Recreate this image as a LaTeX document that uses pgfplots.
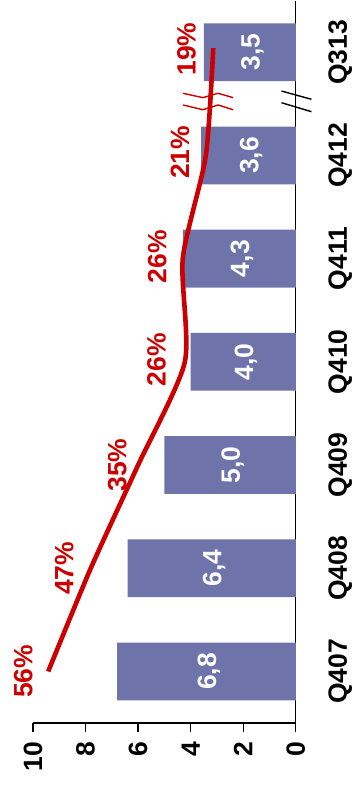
\documentclass[border=0pt]{standalone}
\usepackage{pgfplots}
\pgfplotsset{compat=1.18}
\usepackage{fontspec}
\setmainfont{Liberation Sans}
\definecolor{barblue}{RGB}{110,116,170}
\definecolor{linered}{RGB}{204,0,0}
\newcommand\bigbf{\bfseries\fontsize{26.5}{31}\selectfont}
\begin{document}
\begin{tikzpicture}
\begin{axis}[
  scale only axis, width=263pt, height=723pt,
  xmin=0, xmax=10, ymin=-0.5, ymax=6.5,
  x dir=reverse,
  clip=false,
  axis x line*=bottom, axis y line*=right,
  axis line style={line width=1.3pt, black},
  xtick={0,2,...,10},
  ytick={0,...,6},
  yticklabels={Q407,Q408,Q409,Q410,Q411,Q412,Q313},
  tick align=outside,
  major tick length=9pt,
  x tick style={line width=1.3pt, black},
  y tick style={draw=none},
  /pgf/number format/assume math mode=true,
  xticklabel shift=6pt,
  xticklabel style={rotate=90, anchor=east, font=\bigbf},
  yticklabel style={shift={(20pt,0pt)}, rotate=90, anchor=north, font=\bigbf},
]
\addplot[xbar, bar width=0.56, fill=barblue, draw=none] coordinates {
  (6.8,0) (6.4,1) (5.0,2) (4.0,3) (4.3,4) (3.6,5) (3.5,6)};
\addplot[draw=none, nodes near coords, point meta=explicit symbolic,
  nodes near coords style={anchor=center, rotate=90, white, font=\bigbf}] coordinates {
  (3.30,0) [6,8] (3.10,1) [6,4] (2.40,2) [5,0] (1.90,3) [4,0]
  (2.05,4) [4,3] (1.70,5) [3,6] (1.65,6) [3,5]};
\addplot[linered, line width=4.6pt, smooth, tension=0.4] coordinates {
  (9.42,0) (7.80,1) (6.0,2) (4.22,3) (4.30,4) (3.42,5) (3.14,6.04)};
\addplot[draw=none, nodes near coords, point meta=explicit symbolic,
  nodes near coords style={anchor=center, rotate=90, linered, font=\bigbf}] coordinates {
  (10.37,0) [56\%] (8.81,1.0) [47\%] (6.79,2.0) [35\%] (5.30,3.02) [26\%]
  (5.27,4.02) [26\%] (4.41,5.03) [21\%] (4.16,6.03) [19\%]};
% break marks
\draw[linered, line width=1.4pt] (axis cs:4.285,5.602) -- (axis cs:3.536,5.560) -- (axis cs:2.954,5.602) -- (axis cs:2.384,5.560);
\draw[linered, line width=1.4pt] (axis cs:4.285,5.489) -- (axis cs:3.536,5.443) -- (axis cs:2.954,5.489) -- (axis cs:2.384,5.443);
\draw[black, line width=1.4pt] (axis cs:0.544,5.624) -- (axis cs:-0.597,5.544);
\draw[black, line width=1.4pt] (axis cs:0.544,5.511) -- (axis cs:-0.597,5.424);
\coordinate (tl) at (axis cs:10,6.5);
\end{axis}
\path[use as bounding box] ([shift={(-33pt,0pt)}]tl) rectangle ([shift={(315pt,-785pt)}]tl);
\end{tikzpicture}
\end{document}
